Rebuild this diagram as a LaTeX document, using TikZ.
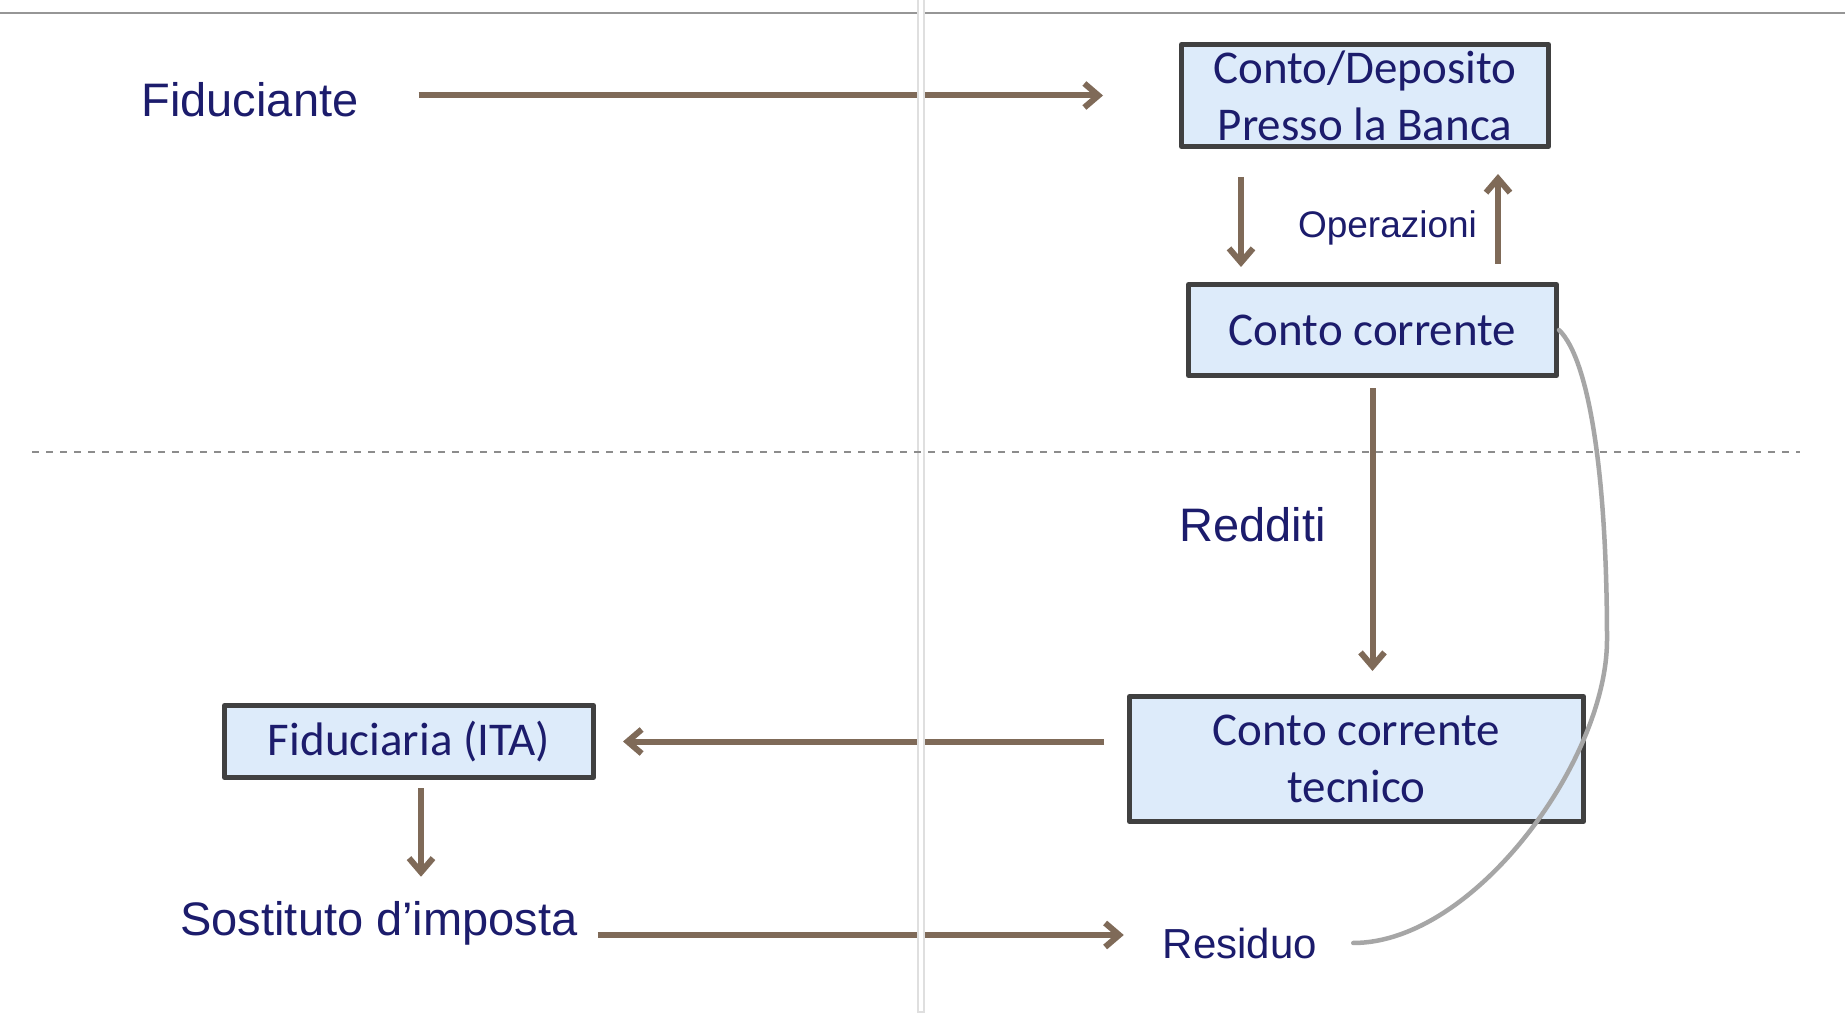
\documentclass[tikz,border=0pt]{standalone}
\usepackage{fontspec}
\setmainfont{Liberation Sans}
\newfontfamily\carl{Carlito}
\usetikzlibrary{arrows.meta,calc}
\definecolor{navy}{RGB}{28,28,108}
\definecolor{brn}{RGB}{127,106,88}
\definecolor{boxfill}{RGB}{221,235,250}
\definecolor{boxline}{RGB}{64,64,64}
\definecolor{curvegray}{RGB}{166,166,166}
\definecolor{rulegray}{RGB}{150,150,150}
\definecolor{dashgray}{RGB}{140,140,140}
\begin{document}
\begin{tikzpicture}[x=1pt,y=-1pt,
  lbl/.style={inner sep=0pt, text=navy, font=\fontsize{47}{57}\selectfont},
  acct/.style={draw=boxline, line width=5pt, line join=round, fill=boxfill, text=navy,
    align=center, inner sep=0pt, font=\carl\fontsize{47}{57}\selectfont},
  arr/.style={draw=brn, line width=6pt, -{Straight Barb[length=14pt,width=24pt]}},
  curveline/.style={draw=curvegray, line width=4.5pt, line cap=round},
]
\useasboundingbox[fill=white] (0,0) rectangle (1845,1016);

% top rule
\draw[rulegray, line width=2.5pt] (0,13) -- (1845,13);

% boxes
\node[acct, minimum width=367pt, minimum height=102pt] (box1) at (1365,95.5) {Conto/Deposito\\Presso la Banca};
\node[acct, minimum width=368pt, minimum height=91pt] (box2) at (1372.5,330) {Conto corrente};
\node[acct, minimum width=454pt, minimum height=125pt] (box3) at (1356.5,759) {Conto corrente\\tecnico};
\node[acct, minimum width=369pt, minimum height=72pt] (box4) at (409,741.5) {Fiduciaria (ITA)};

% labels
\node[lbl, anchor=base] (fiduciante) at (250,117) {Fiduciante};
\node[lbl, font=\fontsize{37}{44}\selectfont, anchor=base] (oper) at (1387.5,238) {Operazioni};
\node[lbl, anchor=base] (redditi) at (1252.5,541) {Redditi};
\node[lbl, anchor=base] (sost) at (379,935) {Sostituto d’imposta};
\node[lbl, font=\fontsize{42}{50}\selectfont, anchor=base] (residuo) at (1240,958) {Residuo};

% arrows
\draw[arr, shorten <=60pt, shorten >=76pt] (box1.west -| fiduciante.east) -- (box1.west);
\draw[arr, shorten <=28pt, shorten >=15pt] (box1.south -| 1241,0) -- (box2.north -| 1241,0);
\draw[arr, shorten <=18pt, shorten >=25pt] (box2.north -| 1498,0) -- (box1.south -| 1498,0);
\draw[arr, shorten <=10pt, shorten >=23pt] (box2.south) -- (box2.south |- box3.north);
\draw[arr, shorten <=23pt, shorten >=27pt] (box3.west |- box4.east) -- (box4.east);
\draw[arr, shorten <=8pt, shorten >=24pt] (box4.south -| 421,0) -- (sost.north -| 421,0);
\draw[arr, shorten <=20pt, shorten >=39pt] (sost.base east) -- (sost.base east -| residuo.west);

% grey curve
\coordinate (cb) at (1607,640);
\coordinate (rend) at ([xshift=36pt]residuo.east);
\draw[curveline] (box2.east) .. controls +(31,30) and +(0,-160) .. (cb)
  .. controls +(0,120) and +(121,0) .. (rend);

% vertical bar
\draw[gray!25, line width=8pt] (921,0) -- (921,1013);
\draw[white, line width=4.5pt] (921,0) -- (921,1011);

% dashed separator
\draw[dashgray, line width=1.8pt, dash pattern=on 7pt off 7pt] (32,452) -- (1800,452);
\end{tikzpicture}
\end{document}
